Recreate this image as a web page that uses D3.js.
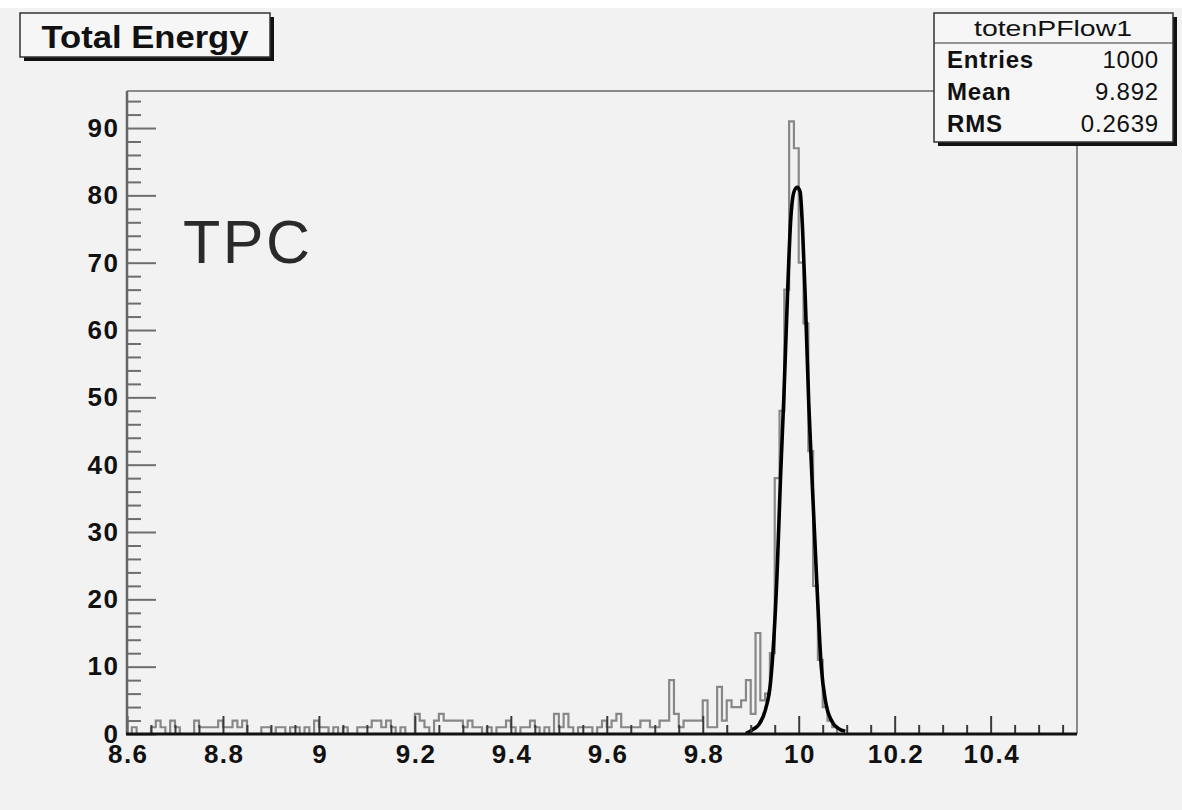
<!DOCTYPE html>
<html>
<head>
<meta charset="utf-8">
<script src="https://cdn.jsdelivr.net/npm/d3@7"></script>
<style>
  html, body { margin: 0; padding: 0; background: #ffffff; }
  svg { display: block; }
  text { font-family: "Liberation Sans", Arial, Helvetica, sans-serif; }
</style>
</head>
<body>
<div id="chart"></div>
<script>
// histogram totenPFlow1 : bin low edge, bin width, counts per bin
var binLow = 8.6;
var binWidth = 0.01;
var counts = [
  0,1,0,0,0,1,2,1,0,2,   // 8.60
  1,0,0,0,2,1,1,1,1,2,   // 8.70
  1,1,2,1,2,0,0,0,1,1,   // 8.80
  0,1,1,0,1,1,0,1,0,2,   // 8.90
  1,1,0,1,0,1,0,0,1,1,   // 9.00
  1,2,2,1,2,1,0,1,0,0,   // 9.10
  3,2,1,0,2,3,2,2,2,2,   // 9.20
  1,2,1,1,0,1,0,1,1,2,   // 9.30
  1,0,1,1,2,1,0,1,0,3,   // 9.40
  1,3,1,0,1,1,1,0,1,2,   // 9.50
  1,2,3,1,1,1,1,2,2,1,   // 9.60
  1,2,2,8,3,1,2,2,2,2,   // 9.70
  5,1,1,7,2,5,4,4,5,8,   // 9.80
  3,15,5,6,12,38,48,66,91,87, // 9.90
  70,61,42,22,11,4,2,1,0,0,   // 10.00
  0,0,0,0,0,0,0,0,0,0,
  0,0,0,0,0,0,0,0,0,0,
  0,0,0,0,0,0,0,0,0,0,
  0,0,0,0,0,0,0,0,0,0,
  0,0,0,0,0,0,0,0
];

// gaussian fit as drawn (energy, height)
var fitX = [9.890, 9.896, 9.905, 9.917, 9.931, 9.941, 9.948, 9.955, 9.962, 9.969, 9.976, 9.983,
            9.990, 9.997, 10.003, 10.008, 10.014, 10.021, 10.028, 10.038, 10.047, 10.056, 10.069, 10.083, 10.097];
var fitY = [0.1, 0.3, 0.7, 1.4, 3.7, 7.5, 14, 24, 38, 50, 64, 76,
            80.5, 81.2, 80.5, 75, 64, 49, 37.5, 22, 10, 4.8, 1.9, 0.8, 0.4];

var xTicks = [8.6, 8.8, 9, 9.2, 9.4, 9.6, 9.8, 10, 10.2, 10.4];
var yTicks = [0, 10, 20, 30, 40, 50, 60, 70, 80, 90];
var xDomain = [8.6, 10.58];
var yDomain = [0, 95.5];

var titleText = "Total Energy";
var statsName = "totenPFlow1";
var statsLabels = ["Entries", "Mean", "RMS"];
var statsValues = ["1000", "9.892", "0.2639"];
var noteText = "TPC";

var W = 1182, H = 810;
var svg = d3.select("#chart").append("svg").attr("width", W).attr("height", H);

// pad background
svg.append("rect").attr("x", 0).attr("y", 8).attr("width", W).attr("height", H - 8)
  .attr("fill", "#f2f2f2");

var x = d3.scaleLinear().domain(xDomain).range([127, 1077]);
var y = d3.scaleLinear().domain(yDomain).range([734, 91]);

// frame (top and right)
svg.append("path")
  .attr("d", "M" + x(xDomain[0]) + "," + y(yDomain[1]) + "H" + x(xDomain[1]) + "V" + y(0))
  .attr("fill", "none").attr("stroke", "#6a6a6a").attr("stroke-width", 1.5);

// histogram outline
var pts = [[binLow, 0]];
counts.forEach(function(c, i) {
  pts.push([binLow + i * binWidth, c]);
  pts.push([binLow + (i + 1) * binWidth, c]);
});
pts.push([binLow + counts.length * binWidth, 0]);
var histLine = d3.line().x(function(d) { return x(Math.min(d[0], xDomain[1])); }).y(function(d) { return y(d[1]); });
svg.append("path").datum(pts)
  .attr("d", histLine)
  .attr("fill", "none").attr("stroke", "#888").attr("stroke-width", 2.2)
  .attr("stroke-linejoin", "miter");

// fit curve
var fitLine = d3.line()
  .x(function(d, i) { return x(fitX[i]); })
  .y(function(d) { return y(d); })
  .curve(d3.curveMonotoneX);
svg.append("path").datum(fitY)
  .attr("d", fitLine)
  .attr("fill", "none").attr("stroke", "#000").attr("stroke-width", 3.6)
  .attr("stroke-linejoin", "round");

// x axis, ticks pointing up
var xMinor = d3.range(0, 40).map(function(i) { return +(8.6 + i * 0.05).toFixed(2); })
  .filter(function(v) { return v <= xDomain[1] && xTicks.indexOf(v) < 0; });
var gxMinor = svg.append("g").attr("transform", "translate(0," + y(0) + ")")
  .call(d3.axisBottom(x).tickValues(xMinor).tickSize(-9).tickFormat(""));
var gx = svg.append("g").attr("transform", "translate(0," + y(0) + ")")
  .call(d3.axisBottom(x).tickValues(xTicks).tickSize(-18).tickPadding(11)
    .tickFormat(function(d) { return String(+d.toFixed(1)); }));
[gx, gxMinor].forEach(function(g) {
  g.select(".domain").remove();
  g.selectAll(".tick line").attr("stroke", "#3a3a3a").attr("stroke-width", 2);
});
gx.selectAll("text").attr("font-size", 26).attr("font-weight", "bold").attr("fill", "#111")
  .attr("letter-spacing", 1.5).attr("dx", 0.75);

// y axis, ticks pointing right
var yMinor = d3.range(0, 48).map(function(i) { return i * 2; })
  .filter(function(v) { return v <= yDomain[1] && yTicks.indexOf(v) < 0; });
var gyMinor = svg.append("g").attr("transform", "translate(" + x(xDomain[0]) + ",0)")
  .call(d3.axisLeft(y).tickValues(yMinor).tickSize(-14).tickFormat(""));
var gy = svg.append("g").attr("transform", "translate(" + x(xDomain[0]) + ",0)")
  .call(d3.axisLeft(y).tickValues(yTicks).tickSize(-29).tickPadding(9));
[gy, gyMinor].forEach(function(g) {
  g.select(".domain").remove();
  g.selectAll(".tick line").attr("stroke", "#6e6e6e").attr("stroke-width", 2);
});
gy.selectAll("text").attr("font-size", 26).attr("font-weight", "bold").attr("fill", "#111")
  .attr("letter-spacing", 1.5).attr("dx", 1.5);

// axis lines
svg.append("line").attr("x1", x(xDomain[0])).attr("x2", x(xDomain[0]))
  .attr("y1", y(yDomain[1])).attr("y2", y(0))
  .attr("stroke", "#666").attr("stroke-width", 2.5);
svg.append("line").attr("x1", x(xDomain[0]) - 1).attr("x2", x(xDomain[1]))
  .attr("y1", y(0)).attr("y2", y(0))
  .attr("stroke", "#111").attr("stroke-width", 3);

// TPC label
svg.append("text").attr("x", 183).attr("y", 263)
  .attr("font-size", 61).attr("fill", "#2a2a2a").attr("letter-spacing", 2.5).text(noteText);

// title box
var tb = svg.append("g");
tb.append("rect").attr("x", 24).attr("y", 17).attr("width", 250).attr("height", 44).attr("fill", "#111");
tb.append("rect").attr("x", 20).attr("y", 13).attr("width", 250).attr("height", 44)
  .attr("fill", "#f6f6f6").attr("stroke", "#333").attr("stroke-width", 1.5);
tb.append("text").attr("x", 145).attr("y", 48).attr("text-anchor", "middle")
  .attr("font-size", 31).attr("font-weight", "bold").attr("fill", "#111")
  .attr("textLength", 207).attr("lengthAdjust", "spacingAndGlyphs").text(titleText);

// stats box
var sb = svg.append("g");
sb.append("rect").attr("x", 938).attr("y", 17).attr("width", 239).attr("height", 129).attr("fill", "#111");
sb.append("rect").attr("x", 934).attr("y", 13).attr("width", 239).attr("height", 129)
  .attr("fill", "#f6f6f6").attr("stroke", "#333").attr("stroke-width", 1.5);
sb.append("line").attr("x1", 934).attr("x2", 1173).attr("y1", 43).attr("y2", 43)
  .attr("stroke", "#333").attr("stroke-width", 1.2);
sb.append("text").attr("x", 1053).attr("y", 36).attr("text-anchor", "middle")
  .attr("font-size", 22).attr("fill", "#111")
  .attr("textLength", 158).attr("lengthAdjust", "spacingAndGlyphs").text(statsName);
statsLabels.forEach(function(l, i) {
  var by = 68 + i * 32;
  sb.append("text").attr("x", 947).attr("y", by).attr("font-size", 24)
    .attr("font-weight", "bold").attr("fill", "#111").attr("letter-spacing", 0.8).text(l);
  sb.append("text").attr("x", 1159).attr("y", by).attr("text-anchor", "end").attr("font-size", 24)
    .attr("fill", "#111").attr("letter-spacing", 0.8).text(statsValues[i]);
});
</script>
</body>
</html>
